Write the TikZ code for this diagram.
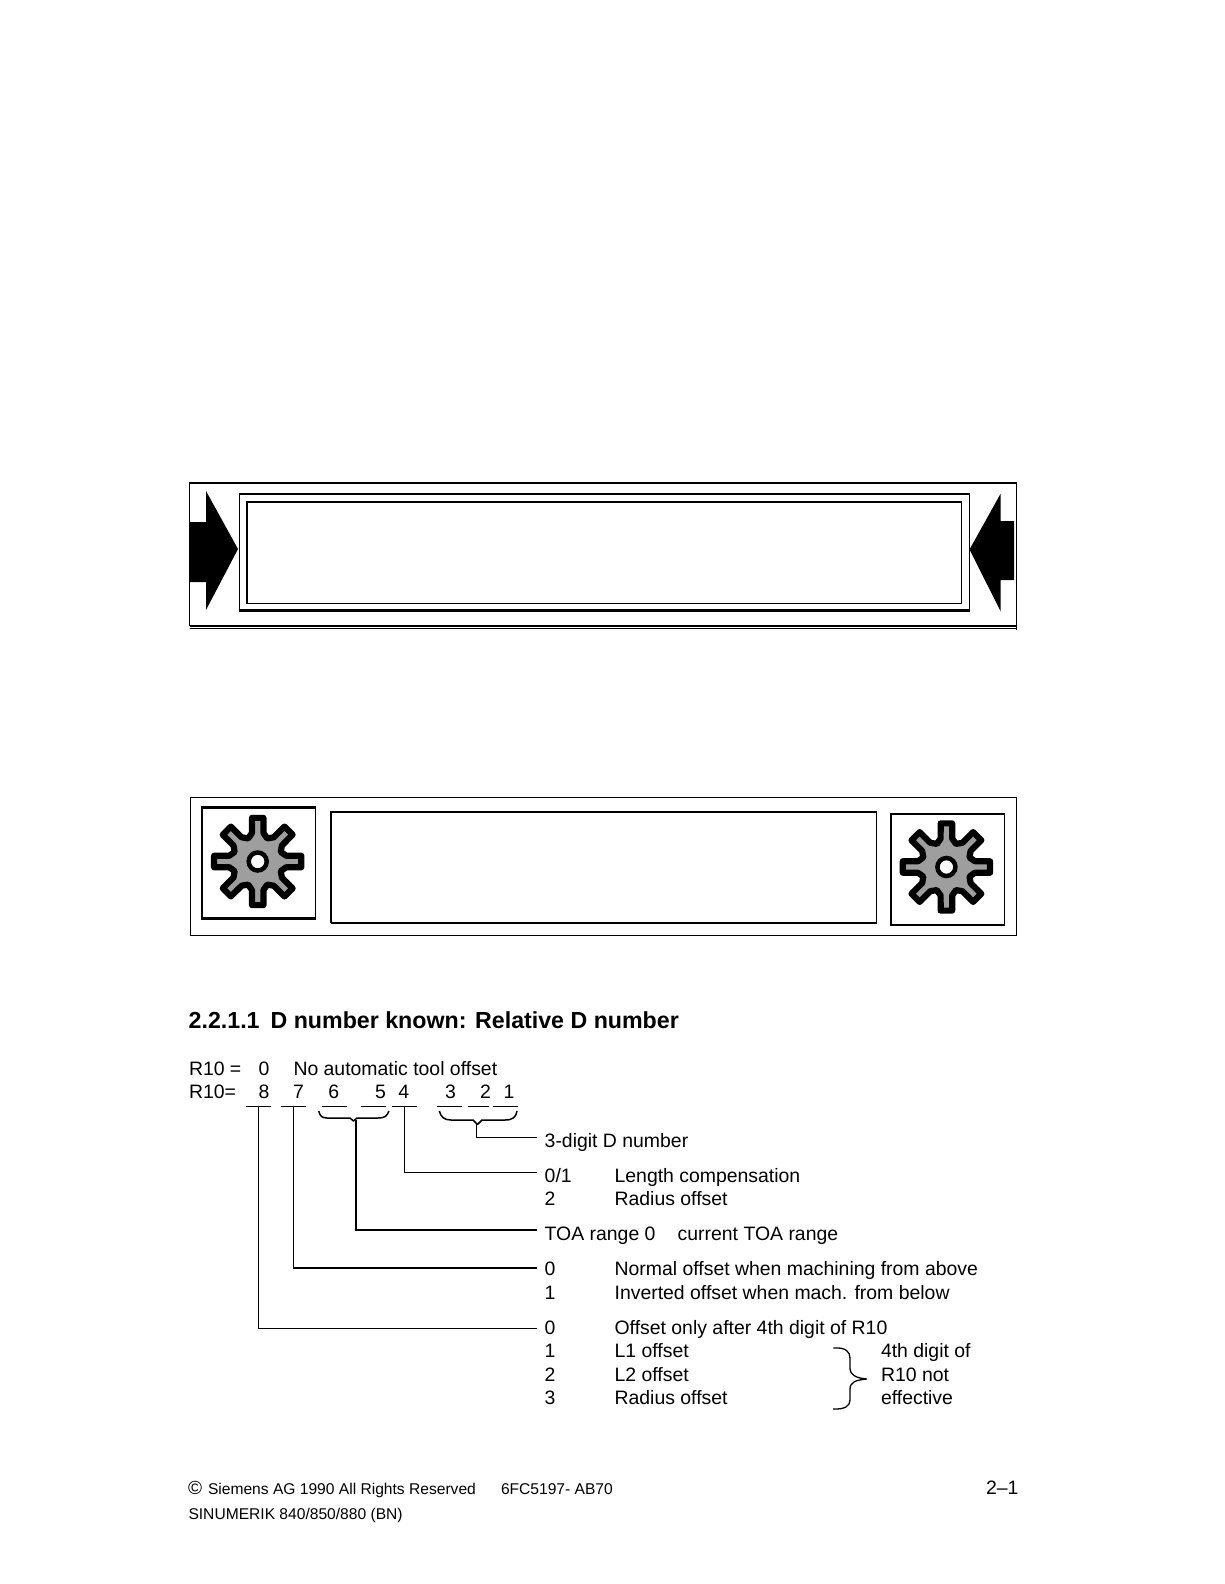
\documentclass[tikz,border=0pt]{standalone}
\usepackage{fontspec}
\setmainfont{Liberation Sans}
\usetikzlibrary{calc}
\tikzset{
  page/.style={x=1pt,y=-1pt},
  txt/.style={anchor=base west,inner sep=0pt,outer sep=0pt,font=\fontsize{19.42}{22}\selectfont,text=black},
  head/.style={txt,font=\fontsize{23.2}{26}\selectfont\bfseries},
  foot/.style={txt,font=\fontsize{15.6}{18}\selectfont},
  thin rule/.style={line width=1.1pt,black},
  lead/.style={line width=1.2pt,black},
  leadthick/.style={line width=2.1pt,black},
  thickrule/.style={line width=2.6pt,black},
  brace/.style={line width=1.5pt,black,line join=round},
  gearbody/.style={line width=6.2pt,line join=round,draw=black,fill=black!38},
}
\newcommand{\gearat}[3]{%
  \begin{scope}[shift={(#1,#2)}]
    \draw[gearbody] (-22.5:25)
      \foreach \a in {0,45,...,315} {
        -- ($(\a-22.5:25)$) -- ($(\a-11.5:29)$) -- ($(\a-7.5:44)$) -- ($(\a+7.5:44)$) -- ($(\a+11.5:29)$)
      } -- cycle;
    \node[circle,draw=black,line width=4.5pt,fill=white,minimum size=18pt,inner sep=0pt] (#3) at (0,0) {};
  \end{scope}}
\begin{document}
\begin{tikzpicture}[page]
\useasboundingbox (0,0) rectangle (1224,1584);
\fill[white] (0,0) rectangle (1224,1584);

% first panel
\draw[thin rule] (189.5,626) -- (189.5,483) -- (1016.5,483) -- (1016.5,630);
\draw[thin rule] (189.5,626) -- (1016.5,626);
\draw[thin rule] (189.5,628.5) -- (1016.5,628.5);
\fill[black] (189.5,522) -- (206,522) -- (206,491) -- (238,549) -- (206,610) -- (206,582) -- (189.5,582) -- cycle;
\fill[black] (1014,521) -- (1000.7,521) -- (1000.7,493.5) -- (969.5,549.5) -- (1000.7,611.5) -- (1000.7,580) -- (1014,580) -- cycle;
\draw[line width=1.6pt] (239.5,494) rectangle (969.5,610.5);
\draw[thickrule] (238.5,494) -- (970,494);
\draw[thickrule] (238.5,610.5) -- (970,610.5);
\draw[line width=1.8pt] (247,502) rectangle (961.5,603.5);

% second panel
\draw[thin rule] (190.3,797.3) rectangle (1016.5,935.3);
\draw[line width=1.2pt] (202,807.5) rectangle (315.5,918.5);
\draw[line width=2.2pt] (201,807.5) -- (316,807.5);
\draw[line width=2.2pt] (201,918.5) -- (316,918.5);
\draw[line width=1.5pt] (331,812) rectangle (876.5,922.7);
\draw[line width=2pt] (331,812) -- (876.5,812);
\draw[line width=2pt] (331,922.7) -- (876.5,922.7);
\draw[line width=1.2pt] (891,814) rectangle (1004.5,925);
\draw[line width=2pt] (891,814) -- (1004.5,814);
\draw[line width=2pt] (891,925) -- (1004.5,925);
\gearat{257.7}{861.5}{gearA}
\gearat{946.4}{867}{gearB}

% heading and texts
\node[head] (title) at (188.7,1028) {2.2.1.1\hspace{11pt}D number known: Relative D number};
\node[txt] (rA) at (189,1075) {R10 =};
\node[txt] (zero) at (258.7,1075) {0};
\node[txt] (noauto) at (293.5,1075) {No automatic tool offset};
\node[txt] (rB) at (189,1098.3) {R10=};
\node[txt] (n8) at (258.7,1098.3) {8};
\node[txt] (n7) at (293,1098.3) {7};
\node[txt] (n6) at (328.3,1098.3) {6};
\node[txt] (n5) at (375,1098.3) {5};
\node[txt] (n4) at (398.3,1098.3) {4};
\node[txt] (n3) at (445,1098.3) {3};
\node[txt] (n2) at (480,1098.3) {2};
\node[txt] (n1) at (503.5,1098.3) {1};

\node[txt] (tD) at (544.7,1147.7) {3-digit D number};
\node[txt] (a1) at (544.7,1182.5) {0/1};
\node[txt] (a2) at (614.6,1182.5) {Length compensation};
\node[txt] (b1) at (544.7,1205.3) {2};
\node[txt] (b2) at (614.6,1205.3) {Radius offset};
\node[txt] (c1) at (544.7,1240.3) {TOA range 0};
\node[txt] (c2) at (677.7,1240.3) {current TOA range};
\node[txt] (d1) at (544.7,1275.3) {0};
\node[txt] (d2) at (614.6,1275.3) {Normal offset when machining from above};
\node[txt] (e1) at (544.7,1299) {1};
\node[txt] (e2) at (614.6,1299) {Inverted offset when mach. from below};
\node[txt] (f1) at (544.7,1334.6) {0};
\node[txt] (f2) at (614.6,1334.6) {Offset only after 4th digit of R10};
\node[txt] (g1) at (544.7,1357.8) {1};
\node[txt] (g2) at (614.6,1357.8) {L1 offset};
\node[txt] (g3) at (881,1357.8) {4th digit of};
\node[txt] (h1) at (544.7,1381) {2};
\node[txt] (h2) at (614.6,1381) {L2 offset};
\node[txt] (h3) at (881,1381) {R10 not};
\node[txt] (i1) at (544.7,1404.3) {3};
\node[txt] (i2) at (614.6,1404.3) {Radius offset};
\node[txt] (i3) at (881,1404.3) {effective};

% digit stubs
\draw[lead] (246,1106.5) -- (271,1106.5);
\draw[lead] (281,1106.5) -- (306,1106.5);
\draw[lead] (322,1106.5) -- (347,1106.5);
\draw[lead] (361,1106.5) -- (386,1106.5);
\draw[lead] (392,1106.5) -- (417,1106.5);
\draw[lead] (437,1106.5) -- (462,1106.5);
\draw[lead] (468,1106.5) -- (489,1106.5);
\draw[lead] (493,1106.5) -- (518,1106.5);

% named ends of connectors
\coordinate (p8) at (258.5,1106.5);
\coordinate (p7) at (293.5,1106.5);
\coordinate (p4) at (404.5,1106.5);
\coordinate (q65) at (355.7,1120);
\coordinate (q321) at (476.5,1124);
\coordinate (e8) at (537,1328.5);
\coordinate (e7) at (537,1267.8);
\coordinate (e65) at (537,1230.2);
\coordinate (e4) at (537,1172.5);
\coordinate (e321) at (537,1137.5);

% braces
\draw[brace] (318.7,1111) .. controls (320,1116) and (322,1118) .. (327,1118) -- (350,1118) -- (353.5,1121) -- (357,1118) -- (378,1118) .. controls (385,1118) and (387,1116) .. (389,1111);
\draw[brace] (439.3,1111) .. controls (441,1117) and (444,1120) .. (451,1120) -- (473,1120) -- (477.5,1124.5) -- (482,1120) -- (505,1120) .. controls (513,1120) and (516,1117) .. (517,1111);
\draw[line width=1.3pt,black,line join=round] (833.3,1348) .. controls (846,1347) and (850,1352) .. (850,1358) -- (850,1368) .. controls (850,1375) and (856,1378) .. (866.7,1379) .. controls (856,1380) and (850,1382) .. (850,1389) -- (850,1400) .. controls (850,1406) and (845,1409.5) .. (833,1409);

% connectors
\draw[lead] (p8) |- (e8);
\draw[line width=1.6pt,black] (p7) |- (e7);
\draw[leadthick] (q65) |- (e65);
\draw[lead] (p4) |- (e4);
\draw[lead] (q321) |- (e321);

% footer
\node[txt,font=\fontsize{19}{22}\selectfont] (copy) at (188,1494) {©};
\node[foot] (sie) at (208,1494) {Siemens AG 1990 All Rights Reserved};
\node[foot] (num) at (501,1494) {6FC5197- AB70};
\node[txt] (pg) at (986,1494) {2–1};
\node[foot] (sinu) at (188.5,1519) {SINUMERIK 840/850/880 (BN)};
\end{tikzpicture}
\end{document}
